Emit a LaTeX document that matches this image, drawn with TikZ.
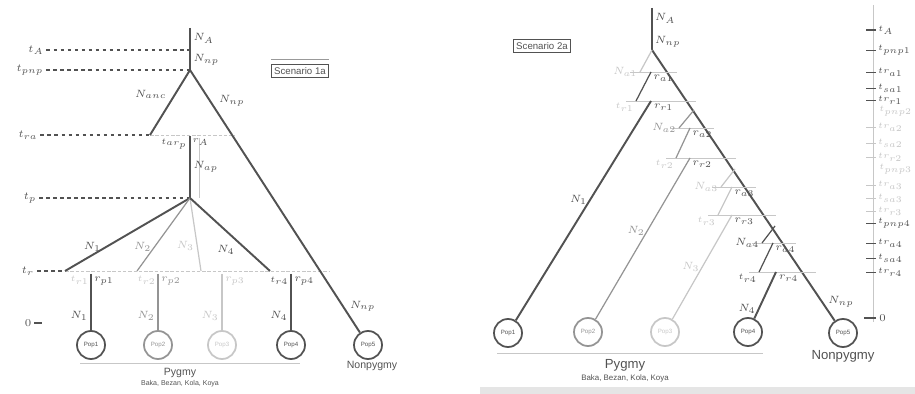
\documentclass[tikz,border=0pt]{standalone}
\usepackage{fontspec}
\setsansfont{Liberation Sans}
\usetikzlibrary{positioning}
\colorlet{dk}{black!68}
\colorlet{md}{black!42}
\colorlet{lt}{black!22}

\begin{document}
\begin{tikzpicture}[x=0.02cm,y=-0.02cm,
    br/.style={line width=1.1pt},
    ln/.style={line width=.7pt},
    guide/.style={dk,line width=.6pt,dash pattern=on 2pt off 2pt},
    faint/.style={black!22,line width=.4pt},
    pop/.style={circle,draw,line width=1pt,minimum size=.56cm,inner sep=0pt,font=\sffamily\fontsize{3.5}{4}\selectfont},
    lbl/.style={font=\fontsize{6}{7}\selectfont,inner sep=1.5pt},
    big/.style={font=\fontsize{6.5}{7}\selectfont,inner sep=1.2pt},
    ax/.style={font=\fontsize{5}{6}\selectfont,inner sep=1pt},
    sm/.style={font=\fontsize{4.5}{5}\selectfont,inner sep=1pt},
    scen/.style={draw=black!40,font=\sffamily\fontsize{5.5}{6}\selectfont,inner sep=1.5pt}]
    \useasboundingbox (0,0) rectangle (915,394);
    \fill[black!10] (480,387) rectangle (915,394);

    % scenario 1a
    \node[scen,dk] (sc1) at (300,71) {Scenario 1a};
    \draw[black!40] ([yshift=3pt]sc1.north west) -- ([yshift=3pt]sc1.north east);
    \node[lbl,dk] (tA) at (36,50) {$t_A$};
    \node[lbl,dk] (tpnp) at (30,70) {$t_{pnp}$};
    \node[lbl,dk] (tra) at (28,135) {$t_{ra}$};
    \node[lbl,dk] (tp) at (30,198) {$t_p$};
    \node[lbl,dk] (tr) at (28,271) {$t_r$};
    \node[lbl,dk] (t0) at (28,323) {$0$};
    \draw[dk,line width=.6pt] (t0.east) -- ++(8,0);
    \coordinate (A) at (190,28);
    \coordinate (R) at (190,70);
    \coordinate (a1) at (150,135);
    \coordinate (a2) at (190,136);
    \coordinate (a3) at (235,135);
    \coordinate (d1) at (199,138);
    \coordinate (d2) at (199,198);
    \coordinate (P) at (190,198);
    \coordinate (b1) at (65,271);
    \coordinate (b2) at (137,271);
    \coordinate (b3) at (201,271);
    \coordinate (b4) at (270,271);
    \coordinate (b5) at (330,271);
    \coordinate (c1) at (91,274);
    \coordinate (c2) at (158,274);
    \coordinate (c3) at (222,274);
    \coordinate (c4) at (291,274);
    \node[pop,dk] (p1) at (91,345) {Pop1};
    \node[pop,md] (p2) at (158,345) {Pop2};
    \node[pop,lt] (p3) at (222,345) {Pop3};
    \node[pop,dk] (p4) at (291,345) {Pop4};
    \node[pop,dk] (p5) at (368,345) {Pop5};
    \draw[guide] (tA.east) -- (tA -| A);
    \draw[guide] (tpnp.east) -- (tpnp -| R);
    \draw[guide] (tra.east) -- (a1);
    \draw[guide] (tp.east) -- (tp -| P);
    \draw[guide] (tr.east) -- (b1);
    \draw[faint,dash pattern=on 2pt off 1pt] (a1) -- (a3);
    \draw[faint,dash pattern=on 2pt off 1pt] (b1) -- (b5);
    \draw[faint] (d1) -- (d2);
    \draw[br,dk] (A) -- (R) node[pos=.25,right,lbl] {$N_A$} node[pos=.75,right,lbl] {$N_{np}$};
    \draw[br,dk] (R) -- (a1) node[midway,above left,lbl] {$N_{anc}$};
    \draw[br,dk] (R) -- (p5) node[pos=.15,above right,lbl] {$N_{np}$} node[pos=.9,right=2pt,lbl] {$N_{np}$};
    \draw[br,dk] (a2) -- (P) node[pos=0,below left,sm] {$t_{ar_p}$} node[pos=0,below right,sm] {$r_A$} node[midway,right,lbl] {$N_{ap}$};
    \draw[br,dk] (P) -- (b1) node[pos=.78,above,lbl] {$N_1$};
    \draw[ln,md] (P) -- (b2) node[pos=.67,left,lbl] {$N_2$};
    \draw[ln,lt] (P) -- (b3) node[pos=.65,left,lbl] {$N_3$};
    \draw[br,dk] (P) -- (b4) node[pos=.6,below left,lbl] {$N_4$};
    \draw[ln,dk] (c1) -- (p1) node[pos=0,below left,sm,lt] {$t_{r1}$} node[pos=.12,right,lbl] {$r_{p1}$} node[pos=.75,left,lbl] {$N_1$};
    \draw[ln,md] (c2) -- (p2) node[pos=0,below left,sm,lt] {$t_{r2}$} node[pos=.12,right,lbl] {$r_{p2}$} node[pos=.75,left,lbl] {$N_2$};
    \draw[ln,lt] (c3) -- (p3) node[pos=.12,right,lbl] {$r_{p3}$} node[pos=.75,left,lbl] {$N_3$};
    \draw[br,dk] (c4) -- (p4) node[pos=0,below left,sm] {$t_{r4}$} node[pos=.12,right,lbl] {$r_{p4}$} node[pos=.75,left,lbl] {$N_4$};
    \coordinate (pl) at (80,363);
    \coordinate (pr) at (300,363);
    \draw[faint] (pl) -- (pr);
    \node[font=\sffamily\fontsize{6}{7}\selectfont,dk,inner sep=0pt] (pyg) at (180,373) {Pygmy};
    \node[font=\sffamily\fontsize{4}{5}\selectfont,dk,inner sep=0pt] (pygs) at (180,384) {Baka, Bezan, Kola, Koya};
    \node[font=\sffamily\fontsize{6}{7}\selectfont,dk,inner sep=0pt] (np1) at (372,366) {Nonpygmy};

    % scenario 2a
    \node[scen,dk] (sc2) at (542,46) {Scenario 2a};
    \coordinate (A2) at (652,8);
    \coordinate (R2) at (652,50);
    \node[pop,dk] (q1) at (508,333) {Pop1};
    \node[pop,md] (q2) at (588,332) {Pop2};
    \node[pop,lt] (q3) at (665,332) {Pop3};
    \node[pop,dk] (q4) at (748,332) {Pop4};
    \node[pop,dk] (q5) at (843,333) {Pop5};
    \draw[br,dk] (A2) -- (R2) node[pos=.25,right,big] {$N_A$} node[pos=.8,right,big] {$N_{np}$};
    \draw[br,dk] (R2) -- (q5) node[pos=.93,right=2pt,big] {$N_{np}$};
    % level 1
    \coordinate (s1) at (640,72);
    \coordinate (u1) at (651,72);
    \coordinate (v1) at (636,101);
    \coordinate (w1) at (651,101);
    \coordinate (h1a) at (630,72);
    \coordinate (h1b) at (677,72);
    \coordinate (g1a) at (626,101);
    \coordinate (g1b) at (696,101);
    \draw[faint] (h1a) -- (h1b);
    \draw[faint] (g1a) -- (g1b);
    \draw[ln,lt] (R2) -- (s1) node[left,big] {$N_{a1}$};
    \draw[ln,dk] (u1) -- (v1) node[pos=0,below right,big] {$r_{a1}$} node[below left,sm,lt] {$t_{r1}$};
    \draw[br,dk] (w1) -- (q1) node[pos=0,below right,big] {$r_{r1}$} node[pos=.45,left,big] {$N_1$};
    % level 2
    \coordinate (m2) at (694,110);
    \coordinate (s2) at (679,128);
    \coordinate (u2) at (690,128);
    \coordinate (v2) at (676,158);
    \coordinate (w2) at (690,158);
    \coordinate (h2a) at (670,128);
    \coordinate (h2b) at (714,128);
    \coordinate (g2a) at (666,158);
    \coordinate (g2b) at (736,158);
    \draw[faint] (h2a) -- (h2b);
    \draw[faint] (g2a) -- (g2b);
    \draw[ln,md] (m2) -- (s2) node[left,big] {$N_{a2}$};
    \draw[ln,md] (u2) -- (v2) node[pos=0,below right,big,dk] {$r_{a2}$} node[below left,sm,lt] {$t_{r2}$};
    \draw[ln,md] (w2) -- (q2) node[pos=0,below right,big,dk] {$r_{r2}$} node[pos=.45,left,big] {$N_2$};
    % level 3
    \coordinate (m3) at (735,169);
    \coordinate (s3) at (721,187);
    \coordinate (u3) at (732,187);
    \coordinate (v3) at (718,215);
    \coordinate (w3) at (732,215);
    \coordinate (h3a) at (712,187);
    \coordinate (h3b) at (756,187);
    \coordinate (g3a) at (708,215);
    \coordinate (g3b) at (776,215);
    \draw[faint] (h3a) -- (h3b);
    \draw[faint] (g3a) -- (g3b);
    \draw[ln,lt] (m3) -- (s3) node[left,big] {$N_{a3}$};
    \draw[ln,lt] (u3) -- (v3) node[pos=0,below right,big,dk] {$r_{a3}$} node[below left,sm] {$t_{r3}$};
    \draw[ln,lt] (w3) -- (q3) node[pos=0,below right,big,dk] {$r_{r3}$} node[pos=.5,left,big] {$N_3$};
    % level 4
    \coordinate (m4) at (775,226);
    \coordinate (s4) at (762,243);
    \coordinate (u4) at (773,243);
    \coordinate (v4) at (759,272);
    \coordinate (w4) at (776,272);
    \coordinate (h4a) at (752,243);
    \coordinate (h4b) at (796,243);
    \coordinate (g4a) at (749,272);
    \coordinate (g4b) at (816,272);
    \draw[faint] (h4a) -- (h4b);
    \draw[faint] (g4a) -- (g4b);
    \draw[ln,dk] (m4) -- (s4) node[left,big] {$N_{a4}$};
    \draw[ln,dk] (u4) -- (v4) node[pos=0,below right,big] {$r_{a4}$} node[below left,sm] {$t_{r4}$};
    \draw[br,dk] (w4) -- (q4) node[pos=0,below right,big] {$r_{r4}$} node[pos=.8,left,big] {$N_4$};
    \coordinate (ql) at (497,353);
    \coordinate (qr) at (763,353);
    \draw[faint] (ql) -- (qr);
    \node[font=\sffamily\fontsize{7.5}{8}\selectfont,dk,inner sep=0pt] (pyg2) at (625,365) {Pygmy};
    \node[font=\sffamily\fontsize{4.5}{5}\selectfont,dk,inner sep=0pt] (pyg2s) at (625,378) {Baka, Bezan, Kola, Koya};
    \node[font=\sffamily\fontsize{7.5}{8}\selectfont,dk,inner sep=0pt] (np2) at (843,356) {Nonpygmy};
    % time axis
    \coordinate (ax1) at (873,5);
    \coordinate (ax2) at (873,322);
    \draw[faint] (ax1) -- (ax2);
    \draw[dk,line width=.6pt] (866,30) -- (876,30) node[right,ax] {$t_A$};
    \draw[dk,line width=.5pt] (866,50) -- (876,50) node[right,ax] {$t_{pnp1}$};
    \draw[dk,line width=.5pt] (866,72) -- (876,72) node[right,ax] {$tr_{a1}$};
    \draw[dk,line width=.5pt] (866,88) -- (876,88) node[right,ax] {$t_{sa1}$};
    \draw[dk,line width=.5pt] (866,100) -- (876,100) node[right,ax] {$tr_{r1}$};
    \node[right,ax,lt,inner sep=0pt] (tp2) at (879,111) {$t_{pnp2}$};
    \draw[lt,line width=.5pt] (866,127) -- (876,127) node[right,ax] {$tr_{a2}$};
    \draw[lt,line width=.5pt] (866,143) -- (876,143) node[right,ax] {$t_{sa2}$};
    \draw[lt,line width=.5pt] (866,157) -- (876,157) node[right,ax] {$tr_{r2}$};
    \node[right,ax,lt,inner sep=0pt] (tp3) at (879,169) {$t_{pnp3}$};
    \draw[lt,line width=.5pt] (866,185) -- (876,185) node[right,ax] {$tr_{a3}$};
    \draw[lt,line width=.5pt] (866,198) -- (876,198) node[right,ax] {$t_{sa3}$};
    \draw[lt,line width=.5pt] (866,211) -- (876,211) node[right,ax] {$tr_{r3}$};
    \draw[dk,line width=.5pt] (866,223) -- (876,223) node[right,ax] {$t_{pnp4}$};
    \draw[dk,line width=.5pt] (866,243) -- (876,243) node[right,ax] {$tr_{a4}$};
    \draw[dk,line width=.5pt] (866,258) -- (876,258) node[right,ax] {$t_{sa4}$};
    \draw[dk,line width=.5pt] (866,272) -- (876,272) node[right,ax] {$tr_{r4}$};
    \draw[dk,line width=.7pt] (864,318) -- (876,318) node[right,lbl] {$0$};
\end{tikzpicture}
\end{document}
